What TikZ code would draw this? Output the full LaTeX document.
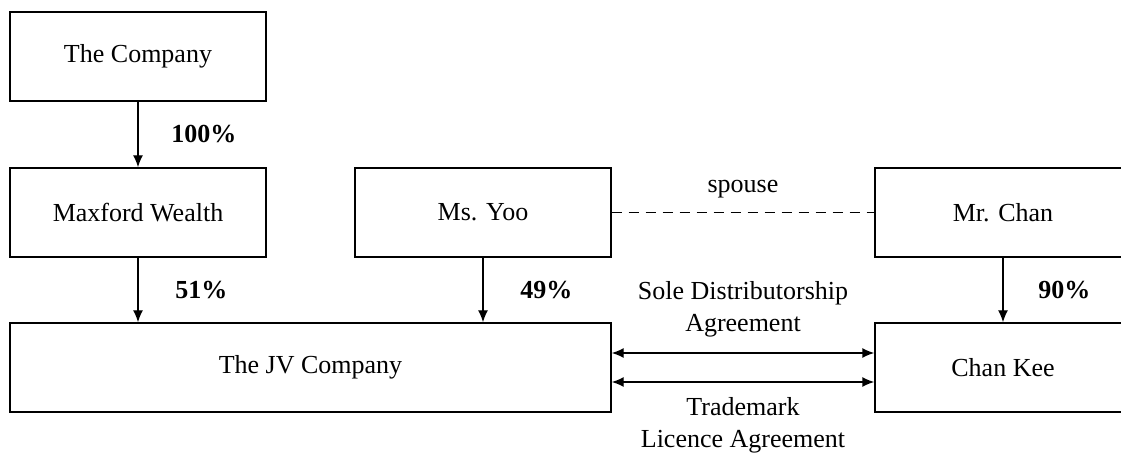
\documentclass[tikz,border=0pt]{standalone}
\usepackage{fontspec}
\setmainfont{Liberation Serif}
\usetikzlibrary{arrows.meta}
\begin{document}
\begin{tikzpicture}[x=0.5pt, y=-0.5pt, >={Latex[length=6pt,width=5pt]}]
      \tikzset{entity/.style={draw, line width=0.7pt, minimum width=128pt, minimum height=44.5pt, inner sep=0pt, font=\fontsize{13}{16}\selectfont}}
      \tikzset{share/.style={font=\fontsize{13}{16}\selectfont\bfseries}}
      \tikzset{deal/.style={font=\fontsize{13}{16}\selectfont, align=center}}
      \useasboundingbox (0,0) rectangle (1121,454);
%% Entities
      	\node[entity] (comp) at (138,56.5) {The Company};
      	\node[entity] (maxf) at (138,212.5) {Maxford Wealth};
    	\node[entity] (yoo) at (483,212.5) {Ms. Yoo};
  	    \node[entity] (chan) at (1003,212.5) {Mr. Chan};
  	    \node[entity, minimum width=300.5pt] (jv) at (310.5,367.5) {The JV Company};
  	    \node[entity] (kee) at (1003,367.5) {Chan Kee};
%Links
		\path[line width=0.7pt, ->] (comp) edge node[midway, right=13pt, share] {100\%} (maxf);
		\path[line width=0.7pt, ->] (maxf.south) edge node[midway, right=15pt, share] {51\%} (maxf.south |- jv.north);
		\path[line width=0.7pt, ->] (yoo.south) edge node[midway, right=15pt, share] {49\%} (yoo.south |- jv.north);
		\path[line width=0.7pt, ->] (chan) edge node[midway, right=14pt, share] {90\%} (kee);
		\path[line width=0.7pt, dashed, dash pattern=on 5pt off 3.5pt] (yoo) edge node[midway, above=3.5pt, deal] {spouse} (chan);
		\path[line width=0.7pt, <->] ([yshift=7.25pt]jv.east) edge node[midway, above=4.5pt, deal] {Sole Distributorship\\Agreement} ([yshift=7.25pt]kee.west);
		\path[line width=0.7pt, <->] ([yshift=-7.25pt]jv.east) edge node[midway, below=4pt, deal] {Trademark\\Licence Agreement} ([yshift=-7.25pt]kee.west);
	\end{tikzpicture}
\end{document}
